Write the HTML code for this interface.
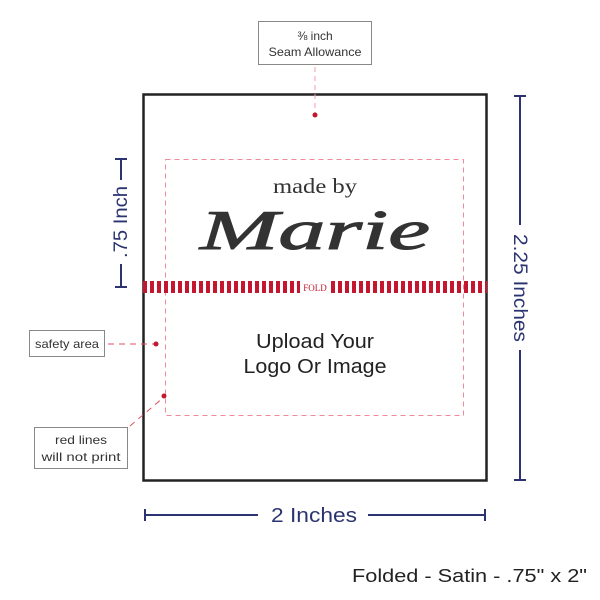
<!DOCTYPE html>
<html><head><style>body{margin:0;background:#fff}svg{display:block}</style></head><body>
<svg width="600" height="600" viewBox="0 0 600 600" xmlns="http://www.w3.org/2000/svg" font-family="Liberation Sans, sans-serif">
<rect x="143.5" y="94.5" width="343" height="386" fill="none" stroke="#222" stroke-width="2.5"/>
<rect x="165.5" y="159.5" width="298" height="256" fill="none" stroke="#f08a96" stroke-width="1" stroke-dasharray="5,4"/>
<line x1="143" y1="287" x2="300" y2="287" stroke="#c4162e" stroke-width="12" stroke-dasharray="4,3"/>
<line x1="331" y1="287" x2="487" y2="287" stroke="#c4162e" stroke-width="12" stroke-dasharray="4,3"/>
<text x="315" y="291" font-family="Liberation Serif, serif" font-size="9" fill="#c4162e" text-anchor="middle">FOLD</text>
<text x="315" y="193" font-family="Liberation Serif, serif" font-size="21" fill="#333" text-anchor="middle" textLength="84" lengthAdjust="spacingAndGlyphs">made by</text>
<text x="200" y="249" font-family="Liberation Serif, serif" font-style="italic" font-size="56" fill="#333" stroke="#333" stroke-width="1" textLength="230" lengthAdjust="spacingAndGlyphs">Marie</text>
<text x="315" y="348" font-size="20" fill="#222" text-anchor="middle" textLength="118" lengthAdjust="spacingAndGlyphs">Upload Your</text>
<text x="315" y="373" font-size="20" fill="#222" text-anchor="middle" textLength="143" lengthAdjust="spacingAndGlyphs">Logo Or Image</text>
<rect x="258.5" y="21.5" width="113" height="43" fill="#fff" stroke="#888"/>
<text x="315" y="40" font-size="12" fill="#333" text-anchor="middle">⅜ inch</text>
<text x="315" y="56" font-size="12" fill="#333" text-anchor="middle" textLength="93" lengthAdjust="spacingAndGlyphs">Seam Allowance</text>
<line x1="315" y1="67" x2="315" y2="114" stroke="#f0a0a8" stroke-dasharray="5,4"/>
<circle cx="315" cy="115" r="2.5" fill="#c4162e"/>
<rect x="29.5" y="330.5" width="75" height="26" fill="#fff" stroke="#888"/>
<text x="67" y="348" font-size="12" fill="#333" text-anchor="middle" textLength="64" lengthAdjust="spacingAndGlyphs">safety area</text>
<line x1="108" y1="344" x2="154" y2="344" stroke="#e05060" stroke-dasharray="6,5"/>
<circle cx="156" cy="344" r="2.5" fill="#c4162e"/>
<rect x="34.5" y="427.5" width="93" height="41" fill="#fff" stroke="#888"/>
<text x="81" y="444" font-size="12" fill="#333" text-anchor="middle" textLength="52" lengthAdjust="spacingAndGlyphs">red lines</text>
<text x="81" y="461" font-size="12" fill="#333" text-anchor="middle" textLength="79" lengthAdjust="spacingAndGlyphs">will not print</text>
<line x1="130" y1="426" x2="164" y2="397" stroke="#e05060" stroke-dasharray="6,5"/>
<circle cx="164" cy="396" r="2.5" fill="#c4162e"/>
<g stroke="#2b3470" stroke-width="2" fill="none">
<line x1="121" y1="159" x2="121" y2="180"/><line x1="121" y1="264" x2="121" y2="287"/>
<line x1="115" y1="159" x2="127" y2="159"/><line x1="115" y1="287" x2="127" y2="287"/>
<line x1="520" y1="96" x2="520" y2="225"/><line x1="520" y1="350" x2="520" y2="480"/>
<line x1="514" y1="96" x2="526" y2="96"/><line x1="514" y1="480" x2="526" y2="480"/>
<line x1="145" y1="515" x2="258" y2="515"/><line x1="368" y1="515" x2="485" y2="515"/>
<line x1="145" y1="509" x2="145" y2="521"/><line x1="485" y1="509" x2="485" y2="521"/>
</g>
<text transform="translate(127,222) rotate(-90)" font-size="19" fill="#2b3470" text-anchor="middle" textLength="72" lengthAdjust="spacingAndGlyphs">.75 Inch</text>
<text transform="translate(514,288) rotate(90)" font-size="19" fill="#2b3470" text-anchor="middle" textLength="108" lengthAdjust="spacingAndGlyphs">2.25 Inches</text>
<text x="314" y="522" font-size="20" fill="#2b3470" text-anchor="middle" textLength="86" lengthAdjust="spacingAndGlyphs">2 Inches</text>
<text x="587" y="582" font-size="18" fill="#222" text-anchor="end" textLength="235" lengthAdjust="spacingAndGlyphs">Folded - Satin - .75" x 2"</text>
</svg>
</body></html>
